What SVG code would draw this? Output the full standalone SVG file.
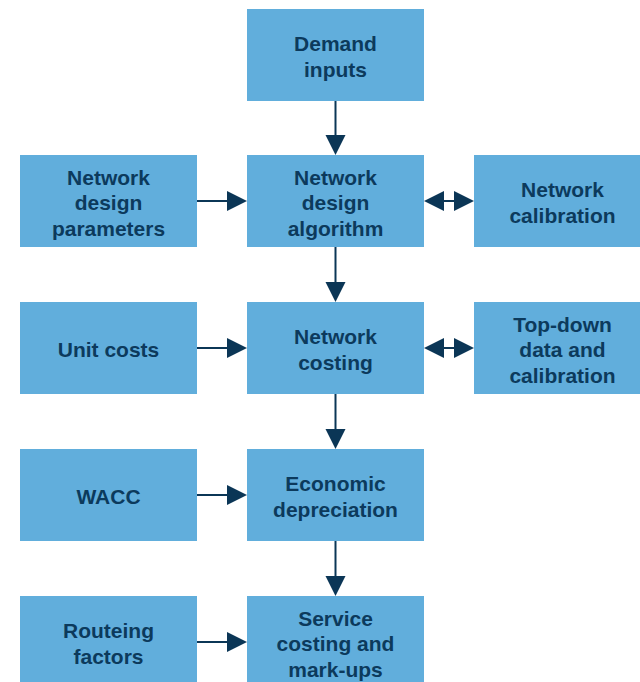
<svg xmlns="http://www.w3.org/2000/svg" width="640" height="682" viewBox="0 0 640 682">
  <style>
    .box { fill: #61AEDC; }
    .lbl { font-family: "Liberation Sans", Arial, sans-serif; font-weight: bold; font-size: 21px; fill: #0C3A5C; text-anchor: middle; }
    .wire { stroke: #0B3656; stroke-width: 2; fill: none; }
    .head { fill: #0B3656; }
  </style>
  <rect width="640" height="682" fill="#FFFFFF"/>

  <!-- centre column -->
  <g id="demand-inputs">
    <rect class="box" x="247" y="9" width="177" height="92"/>
    <text class="lbl" x="335.5" y="51">Demand</text>
    <text class="lbl" x="335.5" y="76.5">inputs</text>
  </g>
  <g id="network-design-algorithm">
    <rect class="box" x="247" y="155" width="177" height="92"/>
    <text class="lbl" x="335.5" y="184.5">Network</text>
    <text class="lbl" x="335.5" y="210">design</text>
    <text class="lbl" x="335.5" y="235.5">algorithm</text>
  </g>
  <g id="network-costing">
    <rect class="box" x="247" y="302" width="177" height="92"/>
    <text class="lbl" x="335.5" y="344">Network</text>
    <text class="lbl" x="335.5" y="369.5">costing</text>
  </g>
  <g id="economic-depreciation">
    <rect class="box" x="247" y="449" width="177" height="92"/>
    <text class="lbl" x="335.5" y="491">Economic</text>
    <text class="lbl" x="335.5" y="516.5">depreciation</text>
  </g>
  <g id="service-costing">
    <rect class="box" x="247" y="596" width="177" height="92"/>
    <text class="lbl" x="335.5" y="625.5">Service</text>
    <text class="lbl" x="335.5" y="651">costing and</text>
    <text class="lbl" x="335.5" y="676.5">mark-ups</text>
  </g>

  <!-- left column -->
  <g id="network-design-parameters">
    <rect class="box" x="20" y="155" width="177" height="92"/>
    <text class="lbl" x="108.5" y="184.5">Network</text>
    <text class="lbl" x="108.5" y="210">design</text>
    <text class="lbl" x="108.5" y="235.5">parameters</text>
  </g>
  <g id="unit-costs">
    <rect class="box" x="20" y="302" width="177" height="92"/>
    <text class="lbl" x="108.5" y="356.5">Unit costs</text>
  </g>
  <g id="wacc">
    <rect class="box" x="20" y="449" width="177" height="92"/>
    <text class="lbl" x="108.5" y="503.5">WACC</text>
  </g>
  <g id="routeing-factors">
    <rect class="box" x="20" y="596" width="177" height="92"/>
    <text class="lbl" x="108.5" y="638">Routeing</text>
    <text class="lbl" x="108.5" y="663.5">factors</text>
  </g>

  <!-- right column -->
  <g id="network-calibration">
    <rect class="box" x="474" y="155" width="177" height="92"/>
    <text class="lbl" x="562.5" y="197">Network</text>
    <text class="lbl" x="562.5" y="222.5">calibration</text>
  </g>
  <g id="top-down-data">
    <rect class="box" x="474" y="302" width="177" height="92"/>
    <text class="lbl" x="562.5" y="331.5">Top-down</text>
    <text class="lbl" x="562.5" y="357">data and</text>
    <text class="lbl" x="562.5" y="382.5">calibration</text>
  </g>

  <!-- connectors -->
  <g id="connectors">
    <!-- vertical flow -->
    <line class="wire" x1="335.5" y1="101" x2="335.5" y2="136"/>
    <polygon class="head" points="325.5,135 345.5,135 335.5,155"/>
    <line class="wire" x1="335.5" y1="247" x2="335.5" y2="283"/>
    <polygon class="head" points="325.5,282 345.5,282 335.5,302"/>
    <line class="wire" x1="335.5" y1="394" x2="335.5" y2="430"/>
    <polygon class="head" points="325.5,429 345.5,429 335.5,449"/>
    <line class="wire" x1="335.5" y1="541" x2="335.5" y2="577"/>
    <polygon class="head" points="325.5,576 345.5,576 335.5,596"/>

    <!-- inputs from the left -->
    <line class="wire" x1="197" y1="201" x2="228" y2="201"/>
    <polygon class="head" points="227,191 227,211 247,201"/>
    <line class="wire" x1="197" y1="348" x2="228" y2="348"/>
    <polygon class="head" points="227,338 227,358 247,348"/>
    <line class="wire" x1="197" y1="495" x2="228" y2="495"/>
    <polygon class="head" points="227,485 227,505 247,495"/>
    <line class="wire" x1="197" y1="642" x2="228" y2="642"/>
    <polygon class="head" points="227,632 227,652 247,642"/>

    <!-- two-way links to the right -->
    <line class="wire" x1="443" y1="201" x2="455" y2="201"/>
    <polygon class="head" points="444,191 444,211 424,201"/>
    <polygon class="head" points="454,191 454,211 474,201"/>
    <line class="wire" x1="443" y1="348" x2="455" y2="348"/>
    <polygon class="head" points="444,338 444,358 424,348"/>
    <polygon class="head" points="454,338 454,358 474,348"/>
  </g>
</svg>
